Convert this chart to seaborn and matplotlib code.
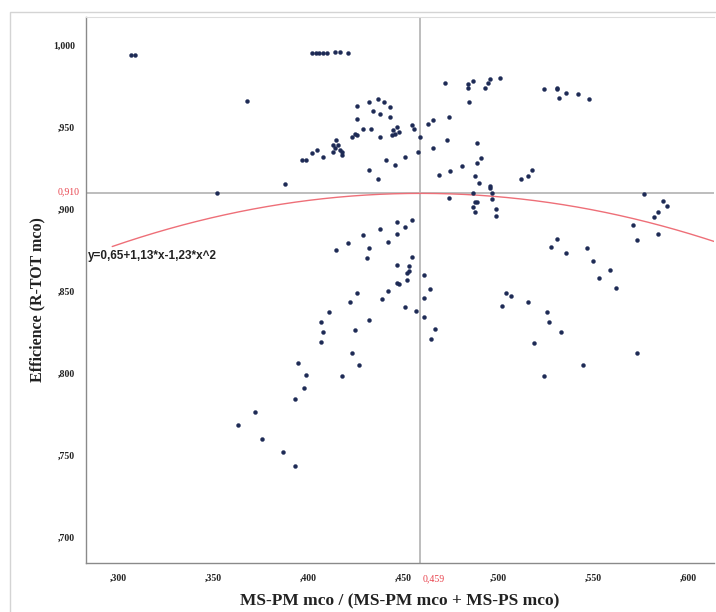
import numpy as np
import pandas as pd
import matplotlib
matplotlib.use("Agg")
import matplotlib.pyplot as plt
from matplotlib.patches import Rectangle
import matplotlib.transforms as mtransforms
import seaborn as sns

# ---- data ----
ratio = [0.307, 0.309, 0.402, 0.404, 0.406, 0.408, 0.410, 0.414, 0.417, 0.421,
         0.368, 0.426, 0.432, 0.437, 0.440, 0.434, 0.438, 0.443, 0.443, 0.426,
         0.429, 0.433, 0.425, 0.423, 0.426, 0.438, 0.445, 0.447, 0.448, 0.446,
         0.444, 0.415, 0.413, 0.416, 0.414, 0.417, 0.418, 0.413, 0.418, 0.405,
         0.402, 0.408, 0.397, 0.399, 0.432, 0.441, 0.446, 0.437, 0.388, 0.352,
         0.455, 0.456, 0.451, 0.459, 0.463, 0.466, 0.458, 0.466, 0.473, 0.474,
         0.472, 0.484, 0.484, 0.487, 0.485, 0.493, 0.495, 0.496, 0.501, 0.489,
         0.491, 0.489, 0.481, 0.475, 0.469, 0.488, 0.490, 0.496, 0.496, 0.474,
         0.487, 0.489, 0.488, 0.487, 0.488, 0.497, 0.497, 0.499, 0.499, 0.512,
         0.516, 0.518, 0.524, 0.531, 0.531, 0.532, 0.536, 0.542, 0.548, 0.577,
         0.587, 0.589, 0.584, 0.582, 0.571, 0.573, 0.584, 0.447, 0.438, 0.447,
         0.429, 0.442, 0.432, 0.421, 0.415, 0.431, 0.447, 0.447, 0.442, 0.439,
         0.426, 0.422, 0.411, 0.407, 0.408, 0.407, 0.432, 0.425, 0.423, 0.427,
         0.395, 0.399, 0.418, 0.398, 0.393, 0.372, 0.363, 0.376, 0.387, 0.393,
         0.465, 0.451, 0.455, 0.455, 0.453, 0.452, 0.453, 0.448, 0.452, 0.461,
         0.464, 0.461, 0.451, 0.457, 0.461, 0.467, 0.531, 0.528, 0.536, 0.547,
         0.550, 0.559, 0.553, 0.562, 0.504, 0.507, 0.502, 0.516, 0.526, 0.527,
         0.533, 0.519, 0.545, 0.573, 0.524]
efficience = [0.994, 0.994, 0.995, 0.995, 0.995, 0.995, 0.995, 0.996, 0.996, 0.995,
              0.966, 0.963, 0.965, 0.967, 0.965, 0.960, 0.958, 0.962, 0.956, 0.955,
              0.949, 0.949, 0.946, 0.944, 0.945, 0.944, 0.948, 0.950, 0.947, 0.946,
              0.945, 0.942, 0.939, 0.939, 0.937, 0.936, 0.935, 0.935, 0.933, 0.936,
              0.934, 0.932, 0.930, 0.930, 0.924, 0.930, 0.927, 0.918, 0.915, 0.910,
              0.951, 0.949, 0.932, 0.944, 0.952, 0.954, 0.935, 0.937, 0.942, 0.956,
              0.977, 0.976, 0.974, 0.978, 0.965, 0.974, 0.977, 0.979, 0.980, 0.940,
              0.931, 0.928, 0.926, 0.923, 0.921, 0.920, 0.916, 0.914, 0.913, 0.907,
              0.910, 0.904, 0.904, 0.901, 0.898, 0.910, 0.906, 0.900, 0.896, 0.918,
              0.920, 0.924, 0.973, 0.974, 0.973, 0.968, 0.971, 0.970, 0.967, 0.909,
              0.905, 0.902, 0.898, 0.895, 0.890, 0.881, 0.885, 0.892, 0.888, 0.885,
              0.884, 0.880, 0.876, 0.879, 0.875, 0.870, 0.866, 0.855, 0.850, 0.845,
              0.849, 0.843, 0.837, 0.831, 0.825, 0.819, 0.832, 0.826, 0.812, 0.805,
              0.806, 0.799, 0.798, 0.791, 0.784, 0.776, 0.768, 0.760, 0.752, 0.743,
              0.821, 0.889, 0.893, 0.871, 0.865, 0.861, 0.862, 0.854, 0.857, 0.860,
              0.851, 0.846, 0.840, 0.838, 0.834, 0.827, 0.882, 0.877, 0.873, 0.876,
              0.868, 0.863, 0.858, 0.852, 0.849, 0.847, 0.841, 0.843, 0.837, 0.831,
              0.825, 0.818, 0.805, 0.812, 0.798]

x_ticks = [0.300, 0.350, 0.400, 0.450, 0.500, 0.550, 0.600]
x_tick_labels = [",300", ",350", ",400", ",450", ",500", ",550", ",600"]
y_ticks = [0.700, 0.750, 0.800, 0.850, 0.900, 0.950, 1.000]
y_tick_labels = [",700", ",750", ",800", ",850", ",900", ",950", "1,000"]
coef = [0.65, 1.13, -1.23]          # fitted quadratic y = a + b*x + c*x^2
ref_x, ref_y = 0.459, 0.910
ref_x_label, ref_y_label = "0,459", "0,910"
equation = "y=0,65+1,13*x-1,23*x^2"

df = pd.DataFrame({"ratio": ratio, "efficience": efficience})

sns.set_style("white")
plt.rcParams["font.family"] = ["Liberation Serif", "DejaVu Serif"]

fig = plt.figure(figsize=(7.16, 6.12), dpi=100)
fig.patches.append(Rectangle((10 / 716, -0.05), 1.2, 1 - 12 / 612 + 0.05,
                             transform=fig.transFigure, fill=False,
                             edgecolor="#d4d4d4", linewidth=1.0, zorder=0))
ax = fig.add_axes([86 / 716, 1 - 563 / 612, 1 - 88 / 716, (563 - 17) / 612])

xlim = (0.2832, 0.6137)
ylim = (0.6841, 1.0171)

# reference lines
ax.axvline(ref_x, color="#bdbdbd", lw=1.4, zorder=1)
ax.axhline(ref_y, color="#bdbdbd", lw=1.4, zorder=1)

# fitted curve
xs = np.linspace(0.297, xlim[1], 300)
ys = coef[0] + coef[1] * xs + coef[2] * xs ** 2
ax.plot(xs, ys, color="#ee6f78", lw=1.0, zorder=2)

sns.scatterplot(data=df, x="ratio", y="efficience", ax=ax, s=8,
                color="#1d2a55", edgecolor="#1d2a55", linewidth=0.3, zorder=3)

ax.set_xlim(*xlim)
ax.set_ylim(*ylim)
ax.set_xticks(x_ticks)
ax.set_xticklabels(x_tick_labels)
ax.set_yticks(y_ticks)
ax.set_yticklabels(y_tick_labels)
ax.tick_params(axis="both", length=2, width=0.6, color="#d8d8d8",
               labelsize=7, labelcolor="#222222", pad=6)
for lab in ax.get_xticklabels() + ax.get_yticklabels():
    lab.set_fontweight("bold")

for side in ["left", "bottom"]:
    ax.spines[side].set_color("#8a8a8a")
    ax.spines[side].set_linewidth(1.0)
ax.spines["top"].set_color("#dddddd")
ax.spines["top"].set_linewidth(0.8)
ax.spines["right"].set_visible(False)

ax.set_xlabel("")
ax.set_ylabel("")

# red reference labels
tr_x = mtransforms.offset_copy(ax.get_xaxis_transform(), fig=fig, x=3, y=-16, units="dots")
ax.text(ref_x, 0, ref_x_label, color="#e8414b", fontsize=7,
        ha="left", va="center", transform=tr_x)
tr_y = mtransforms.offset_copy(ax.get_yaxis_transform(), fig=fig, x=-6, y=1, units="dots")
ax.text(0, ref_y, ref_y_label, color="#e8414b", fontsize=7,
        ha="right", va="center", transform=tr_y)

# equation label
fig.text(88 / 716, 1 - 256 / 612, equation, fontsize=8.5, fontweight="bold",
         family=["Liberation Sans", "DejaVu Sans"], color="#222222",
         ha="left", va="center")

fig.text(400 / 716, 1 - 601 / 612, "MS-PM mco / (MS-PM mco + MS-PS mco)",
         fontsize=12.5, fontweight="bold", ha="center", va="center",
         color="#222222")
fig.text(37 / 716, 1 - 300 / 612, "Efficience (R-TOT mco)", fontsize=11.5,
         fontweight="bold", rotation=90, ha="center", va="center",
         color="#222222")

fig.savefig("out.png", dpi=100)
